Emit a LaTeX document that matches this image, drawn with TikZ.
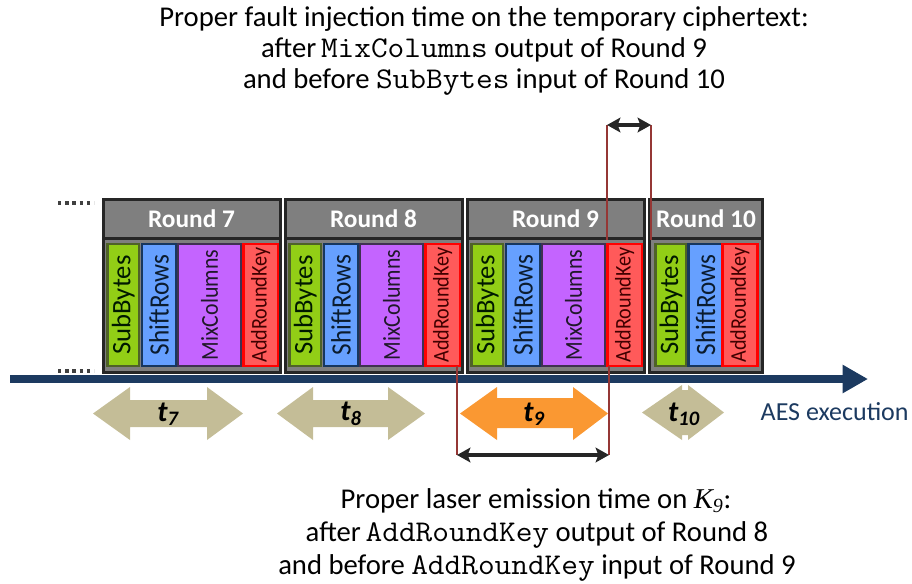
\documentclass[tikz,border=0pt]{standalone}
\usepackage{fontspec}
\setmainfont{Carlito}
\newfontfamily\timesfont{Liberation Serif}
\newfontfamily\opfont{Carlito}[FakeStretch=0.9]
\usetikzlibrary{arrows.meta}

\newcommand{\code}[1]{\scalebox{1.13}[1.05]{\ttfamily #1}}

\definecolor{hdrgray}{RGB}{127,127,127}
\definecolor{edgegray}{RGB}{38,38,38}
\definecolor{sbfill}{RGB}{146,206,22}
\definecolor{sbedge}{RGB}{79,98,40}
\definecolor{srfill}{RGB}{102,160,255}
\definecolor{sredge}{RGB}{23,55,94}
\definecolor{mcfill}{RGB}{196,100,255}
\definecolor{mcedge}{RGB}{64,49,82}
\definecolor{arkfill}{RGB}{255,90,90}
\definecolor{arkedge}{RGB}{255,0,0}
\definecolor{tarrow}{RGB}{196,189,151}
\definecolor{torange}{RGB}{250,152,50}
\definecolor{axisblue}{RGB}{28,58,96}
\definecolor{cutred}{RGB}{149,55,53}

\begin{document}
\begin{tikzpicture}[x=0.75pt,y=0.75pt,yscale=-1,xscale=1,
  hdr/.style={draw=edgegray,fill=hdrgray,line width=2.25pt,minimum height=29.25pt,inner sep=0pt,text=white,font=\fontsize{19}{19}\bfseries\selectfont},
  body/.style={draw=edgegray,fill=hdrgray,line width=2.25pt,minimum height=100.5pt,inner sep=0pt},
  op/.style={rotate=90,line width=1.9pt,minimum width=91.5pt,inner sep=0pt},
  sbbox/.style={op,draw=sbedge,fill=sbfill,minimum height=23.6pt,text=black!90!green,font=\fontsize{20}{20}\selectfont},
  srbox/.style={op,draw=sredge,fill=srfill,minimum height=25.5pt,text=sredge!50!black,font=\opfont\fontsize{21}{21}\selectfont},
  mcbox/.style={op,draw=mcedge,fill=mcfill,minimum height=47.25pt,text=mcedge!50!black,font=\opfont\fontsize{18.2}{18.2}\selectfont},
  arkbox/.style={op,draw=arkedge,fill=arkfill,minimum height=25.9pt,text=red!25!black,font=\opfont\fontsize{16.8}{16.8}\selectfont},
  tlabel/.style={font=\fontsize{22}{22}\bfseries\itshape\selectfont},
  cutline/.style={draw=cutred,line width=1.1pt},
  span/.style={draw=black!85,line width=3.2pt,{Stealth[length=10pt,width=11pt,inset=2pt]}-{Stealth[length=10pt,width=11pt,inset=2pt]}},
  dotrow/.style={draw=black!75,line width=2.4pt,dash pattern=on 2.6pt off 2.8pt},
  caption/.style={anchor=base,font=\fontsize{21.5}{21.5}\selectfont}]
\useasboundingbox (0,0) rectangle (912,583);

% Round 7
\node[hdr,minimum width=132.75pt] (r7h) at (191.5,218.5) {Round 7};
\node[body,minimum width=132.75pt] (r7b) at (191.5,305) {};
\node[sbbox] (r7sb) at (123.25,305) {SubBytes};
\node[srbox] (r7sr) at (159,305) {ShiftRows};
\node[mcbox] (r7mc) at (209.5,305) {MixColumns};
\node[arkbox] (r7ark) at (260.75,305) {AddRoundKey};

% Round 8
\node[hdr,minimum width=132.75pt] (r8h) at (373.5,218.5) {Round 8};
\node[body,minimum width=132.75pt] (r8b) at (373.5,305) {};
\node[sbbox] (r8sb) at (305.25,305) {SubBytes};
\node[srbox] (r8sr) at (341,305) {ShiftRows};
\node[mcbox] (r8mc) at (391.5,305) {MixColumns};
\node[arkbox] (r8ark) at (442.75,305) {AddRoundKey};

% Round 9
\node[hdr,minimum width=132.75pt] (r9h) at (555.5,218.5) {Round 9};
\node[body,minimum width=132.75pt] (r9b) at (555.5,305) {};
\node[sbbox] (r9sb) at (487.25,305) {SubBytes};
\node[srbox] (r9sr) at (523,305) {ShiftRows};
\node[mcbox] (r9mc) at (573.5,305) {MixColumns};
\node[arkbox] (r9ark) at (624.75,305) {AddRoundKey};

% Round 10
\node[hdr,minimum width=84.75pt] (r10h) at (706,218.5) {Round 10};
\node[body,minimum width=84.75pt] (r10b) at (706,305) {};
\node[sbbox] (r10sb) at (671,305) {SubBytes};
\node[srbox] (r10sr) at (705.5,305) {ShiftRows};
\node[arkbox] (r10ark) at (740,305) {AddRoundKey};

% dots before round 7
\draw[dotrow] (58,203) -- (94,203);
\draw[dotrow] (58,371) -- (94,371);

% time axis
\coordinate (axL) at (10,379);
\coordinate (axR) at (868,379);
\draw[axisblue,line width=6pt,-{Triangle[length=19pt,width=20pt]}] (axL) -- (axR);
\node[anchor=west,text=axisblue,font=\fontsize{19.5}{19.5}\selectfont] (aes) at (756,412) {AES execution};

% round durations
\fill[tarrow] (93,413.5) -- (130,387) -- (130,400) -- (207,400) -- (207,387) -- (243,413.5) -- (207,440) -- (207,427) -- (130,427) -- (130,440) -- cycle;
\node[tlabel] (t7) at (168,414) {t\textsubscript{7}};
\fill[tarrow] (277,413.5) -- (313,387) -- (313,400) -- (388,400) -- (388,387) -- (425,413.5) -- (388,440) -- (388,427) -- (313,427) -- (313,440) -- cycle;
\node[tlabel] (t8) at (351,414) {t\textsubscript{8}};
\fill[torange] (460,413.5) -- (497,387) -- (497,398) -- (573,398) -- (573,387) -- (608,413.5) -- (573,440) -- (573,428) -- (497,428) -- (497,440) -- cycle;
\node[tlabel] (t9) at (534,414) {t\textsubscript{9}};
\fill[tarrow] (642,412.5) -- (682,385) -- (682,390) -- (688,390) -- (688,385) -- (724,412.5) -- (688,440) -- (688,435) -- (682,435) -- (682,440) -- cycle;
\node[tlabel] (t10) at (684,414) {t\textsubscript{10}};

% fault injection window
\coordinate (fTopL) at (607,125);
\coordinate (fTopR) at (651,125);
\coordinate (fBotL) at (607,240);
\coordinate (fBotR) at (651,240);
\draw[cutline] (fTopL) -- (fBotL);
\draw[cutline] (fTopR) -- (fBotR);
\draw[span] (fTopL) -- (fTopR);

% laser emission window
\coordinate (lTopL) at (457,366);
\coordinate (lTopR) at (609,366);
\coordinate (lBotL) at (457,455);
\coordinate (lBotR) at (609,455);
\draw[cutline] (lTopL) -- (lBotL);
\draw[cutline] (lTopR) -- (lBotR);
\draw[span,line width=2.8pt] (lBotL) -- (lBotR);

% Text Node
\node[caption] (fault1) at (484,26) {Proper fault injection time on the temporary ciphertext:};
\node[caption] (fault2) at (484,57) {after\,\code{MixColumns} output of Round 9};
\node[caption] (fault3) at (484,88) {and before \code{SubBytes} input of Round 10};
% Text Node
\node[caption] (laser1) at (536,508) {Proper laser emission time on {\timesfont\itshape K\textsubscript{9}}:};
\node[caption] (laser2) at (537,541) {after\,\code{AddRoundKey} output\ of Round 8};
\node[caption] (laser3) at (537,574) {and before \code{AddRoundKey} input of Round 9};

\end{tikzpicture}
\end{document}
